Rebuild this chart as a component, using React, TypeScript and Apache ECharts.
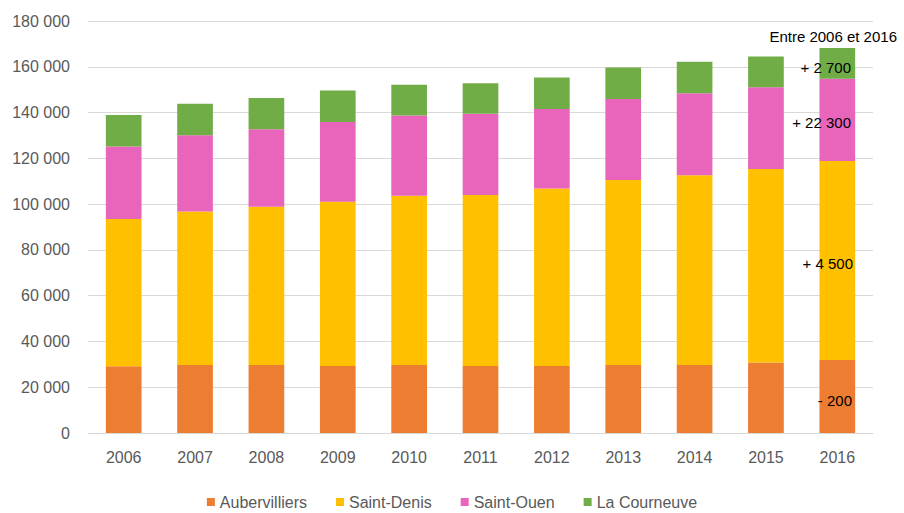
import React, { useEffect, useRef } from "react";
import * as echarts from "echarts";

const years = ["2006", "2007", "2008", "2009", "2010", "2011", "2012", "2013", "2014", "2015", "2016"];
const aubervilliers = [29200, 29700, 29700, 29300, 29700, 29300, 29300, 29700, 29700, 30800, 31900];
const saintDenis = [64300, 67100, 69100, 71700, 73900, 74700, 77500, 80800, 82900, 84500, 86900];
const saintOuen = [31700, 33300, 33900, 34900, 35100, 35500, 34700, 35400, 35800, 35800, 36000];
const laCourneuve = [13700, 13700, 13700, 13700, 13500, 13300, 13800, 13800, 13800, 13400, 13400];
const seriesNames = ["Aubervilliers", "Saint-Denis", "Saint-Ouen", "La Courneuve"];
const seriesColors = ["#ED7D31", "#FFC000", "#E964BB", "#70AD47"];
const noteTitle = "Entre 2006 et 2016";
const noteLabels = ["+ 2 700", "+ 22 300", "+ 4 500", "- 200"];

const FONT = "'Liberation Sans', Arial, sans-serif";

function fmt(v: number): string {
  return String(v).replace(/\B(?=(\d{3})+(?!\d))/g, " ");
}

export default function App() {
  const ref = useRef<HTMLDivElement>(null);
  useEffect(() => {
    if (!ref.current) return;
    const chart = echarts.init(ref.current, undefined, { renderer: "svg" });
    const data = [aubervilliers, saintDenis, saintOuen, laCourneuve];
    const notePos = [
      { x: 851, y: 67 },
      { x: 851, y: 122 },
      { x: 853, y: 263 },
      { x: 852, y: 400 },
    ];
    chart.setOption({
      animation: false,
      backgroundColor: "#ffffff",
      textStyle: { fontFamily: FONT },
      grid: { left: 88, right: 31, top: 21, bottom: 80 },
      legend: {
        data: seriesNames,
        left: "center",
        top: 494,
        padding: 0,
        itemWidth: 8,
        itemHeight: 8,
        itemGap: 29,
        icon: "rect",
        textStyle: { color: "#595959", fontSize: 16, fontFamily: FONT },
      },
      xAxis: {
        type: "category",
        data: years,
        axisLine: { lineStyle: { color: "#D9D9D9", width: 1 } },
        axisTick: { show: false },
        axisLabel: { color: "#595959", fontSize: 16, margin: 16, fontFamily: FONT },
      },
      yAxis: {
        type: "value",
        min: 0,
        max: 180000,
        interval: 20000,
        axisLine: { show: false },
        axisTick: { show: false },
        splitLine: { lineStyle: { color: "#D9D9D9", width: 1 } },
        axisLabel: {
          color: "#595959",
          fontSize: 16,
          margin: 18,
          fontFamily: FONT,
          formatter: (v: number) => fmt(v),
        },
      },
      series: seriesNames.map((name, i) => ({
        name,
        type: "bar",
        stack: "total",
        barCategoryGap: "50%",
        data: data[i],
        itemStyle: { color: seriesColors[i] },
      })),
      graphic: [
        {
          type: "text",
          x: 897,
          y: 36,
          style: {
            text: noteTitle,
            fill: "#000000",
            fontSize: 15,
            fontFamily: FONT,
            align: "right",
            verticalAlign: "middle",
          },
          z: 100,
        },
        ...noteLabels.map((t, i) => ({
          type: "text",
          x: notePos[i].x,
          y: notePos[i].y,
          style: {
            text: t,
            fill: "#000000",
            fontSize: 15,
            fontFamily: FONT,
            align: "right",
            verticalAlign: "middle",
          },
          z: 100,
        })),
      ],
    });
    return () => chart.dispose();
  }, []);
  return <div ref={ref} style={{ width: 904, height: 513, position: "absolute", left: 0, top: 0 }} />;
}
